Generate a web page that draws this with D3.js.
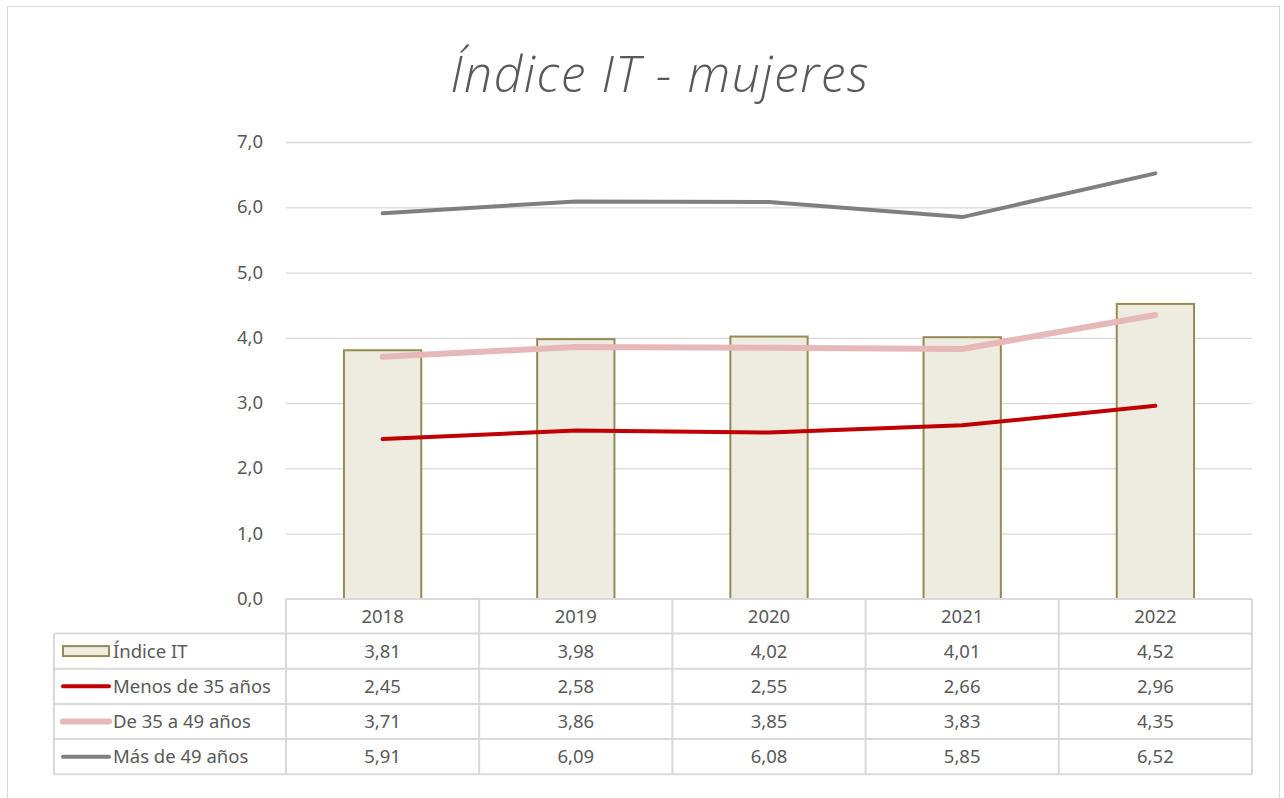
<!DOCTYPE html>
<html>
<head>
<meta charset="utf-8">
<script src="https://cdn.jsdelivr.net/npm/d3@7"></script>
<style>
  body { margin: 0; background: #fff; }
  svg { display: block; }
</style>
</head>
<body>
<div id="chart"></div>
<script>
// Data
const years = ["2018", "2019", "2020", "2021", "2022"];
const indiceIT = [3.81, 3.98, 4.02, 4.01, 4.52];
const menos35 = [2.45, 2.58, 2.55, 2.66, 2.96];
const de35a49 = [3.71, 3.86, 3.85, 3.83, 4.35];
const mas49 = [5.91, 6.09, 6.08, 5.85, 6.52];
const yTicks = [0, 1, 2, 3, 4, 5, 6, 7];

const lineSeries = [
    { name: "Menos de 35 años", values: menos35, color: "#C00000", width: 4 },
    { name: "De 35 a 49 años", values: de35a49, color: "#E6B9B8", width: 6 },
    { name: "Más de 49 años", values: mas49, color: "#7F7F7F", width: 4 }
];

const width = 1284, height = 798;
const plot = { left: 286, right: 1252, top: 142, bottom: 599 };
const font = "'Noto Sans', 'Open Sans', sans-serif";
const fontSize = 18.5;
const textColor = "#595959";
const gridColor = "#D9D9D9";
const fmt = v => d3.format(".2f")(v).replace(".", ",");

const svg = d3.select("#chart").append("svg")
    .attr("width", width)
    .attr("height", height);

// chart frame
svg.append("rect")
    .attr("x", 7.5).attr("y", 6.5)
    .attr("width", 1272).attr("height", 800)
    .attr("fill", "#fff")
    .attr("stroke", gridColor);

// title
svg.append("text")
    .attr("x", 660).attr("y", 92)
    .attr("text-anchor", "middle")
    .attr("font-family", "'Open Sans', sans-serif")
    .attr("font-style", "italic")
    .attr("font-weight", 300)
    .attr("font-size", 50)
    .attr("letter-spacing", 1.5)
    .attr("fill", textColor)
    .text("Índice IT - mujeres");

const x = d3.scaleBand().domain(years).range([plot.left, plot.right]);
const y = d3.scaleLinear().domain([0, 7]).range([plot.bottom, plot.top]);

// gridlines
svg.append("g")
    .selectAll("line")
    .data(yTicks.filter(d => d > 0))
    .join("line")
    .attr("x1", plot.left).attr("x2", plot.right)
    .attr("y1", d => y(d) + 0.5).attr("y2", d => y(d) + 0.5)
    .attr("stroke", gridColor)
    .attr("stroke-width", 1.3);

// y axis labels
const yAxis = svg.append("g")
    .attr("transform", `translate(${plot.left - 20},0)`)
    .call(d3.axisLeft(y).tickValues(yTicks).tickSize(0).tickFormat(d => d3.format(".1f")(d).replace(".", ",")));
yAxis.select(".domain").remove();
yAxis.selectAll("text")
    .attr("font-family", font)
    .attr("font-size", fontSize)
    .attr("fill", textColor)
    .attr("dy", "0.3em");

// bars
const barW = x.bandwidth() * 0.4;
svg.append("g")
    .selectAll("rect")
    .data(indiceIT)
    .join("rect")
    .attr("x", (d, i) => x(years[i]) + (x.bandwidth() - barW) / 2)
    .attr("y", d => y(d))
    .attr("width", barW)
    .attr("height", d => y(0) - y(d))
    .attr("fill", "#EEECE1")
    .attr("stroke", "#948A54")
    .attr("stroke-width", 2);

// lines
const line = d3.line()
    .x((d, i) => x(years[i]) + x.bandwidth() / 2)
    .y(d => y(d));

svg.append("g")
    .selectAll("path")
    .data(lineSeries)
    .join("path")
    .attr("d", d => line(d.values))
    .attr("fill", "none")
    .attr("stroke", d => d.color)
    .attr("stroke-width", d => d.width)
    .attr("stroke-linecap", "round")
    .attr("stroke-linejoin", "round");

// data table
const rowH = 35.2;
const tableLeft = 54;
const rows = [{ name: "Índice IT", values: indiceIT, type: "bar" }]
    .concat(lineSeries.map(s => Object.assign({ type: "line" }, s)));
const tableTop = plot.bottom;
const headerBottom = tableTop + 34.5;

const table = svg.append("g").attr("stroke", gridColor).attr("stroke-width", 2);
table.append("line")
    .attr("x1", plot.left).attr("x2", plot.right)
    .attr("y1", tableTop).attr("y2", tableTop);
const rowYs = rows.map((r, i) => headerBottom + i * rowH);
const tableBottom = headerBottom + rows.length * rowH;
rowYs.concat([tableBottom]).forEach(yy => {
    table.append("line")
        .attr("x1", tableLeft).attr("x2", plot.right)
        .attr("y1", yy).attr("y2", yy);
});
table.append("line")
    .attr("x1", tableLeft).attr("x2", tableLeft)
    .attr("y1", headerBottom).attr("y2", tableBottom);
years.forEach(yr => {
    table.append("line")
        .attr("x1", x(yr)).attr("x2", x(yr))
        .attr("y1", tableTop).attr("y2", tableBottom);
});
table.append("line")
    .attr("x1", plot.right).attr("x2", plot.right)
    .attr("y1", tableTop).attr("y2", tableBottom);

// header years
svg.append("g")
    .selectAll("text")
    .data(years)
    .join("text")
    .attr("x", d => x(d) + x.bandwidth() / 2)
    .attr("y", (tableTop + headerBottom) / 2)
    .attr("dy", "0.35em")
    .attr("text-anchor", "middle")
    .attr("font-family", font)
    .attr("font-size", fontSize)
    .attr("fill", textColor)
    .text(d => d);

// rows
rows.forEach((r, ri) => {
    const cy = rowYs[ri] + rowH / 2;
    if (r.type === "bar") {
        svg.append("rect")
            .attr("x", 63).attr("y", cy - 5)
            .attr("width", 46).attr("height", 10)
            .attr("fill", "#EEECE1")
            .attr("stroke", "#948A54")
            .attr("stroke-width", 2);
    } else {
        svg.append("line")
            .attr("x1", 63).attr("x2", 109)
            .attr("y1", cy).attr("y2", cy)
            .attr("stroke", r.color)
            .attr("stroke-width", r.width)
            .attr("stroke-linecap", "round");
    }
    svg.append("text")
        .attr("x", 113).attr("y", cy)
        .attr("dy", "0.35em")
        .attr("font-family", font)
        .attr("font-size", fontSize)
        .attr("fill", textColor)
        .text(r.name);
    svg.append("g")
        .selectAll("text")
        .data(r.values)
        .join("text")
        .attr("x", (d, i) => x(years[i]) + x.bandwidth() / 2)
        .attr("y", cy)
        .attr("dy", "0.35em")
        .attr("text-anchor", "middle")
        .attr("font-family", font)
        .attr("font-size", fontSize)
        .attr("fill", textColor)
        .text(d => fmt(d));
});
</script>
</body>
</html>
